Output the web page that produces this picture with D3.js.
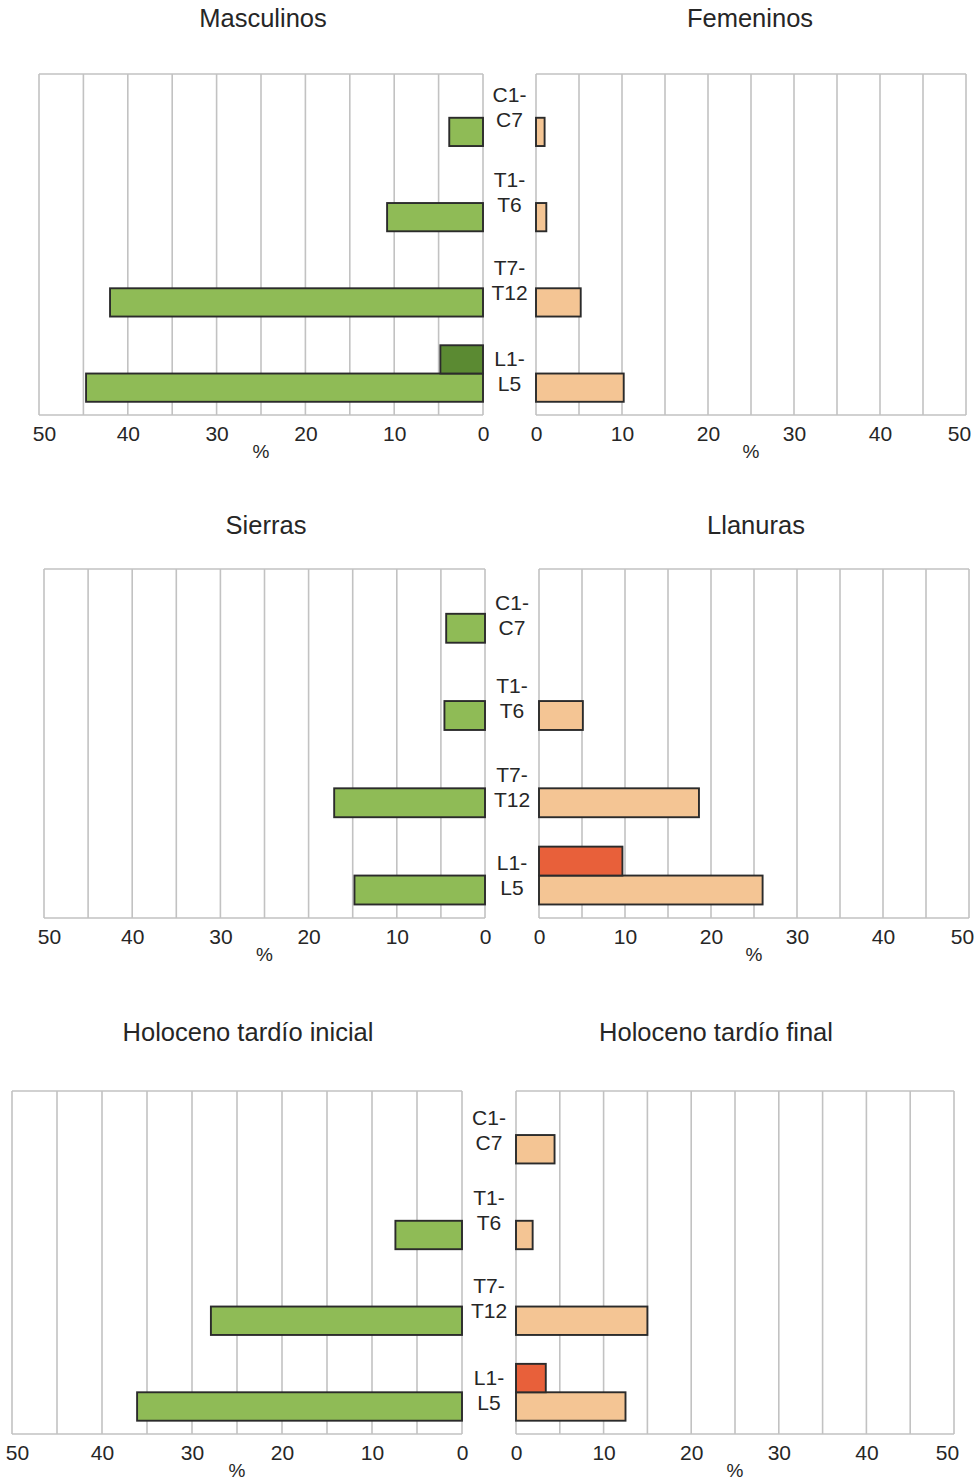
<!DOCTYPE html>
<html>
<head>
<meta charset="utf-8">
<script src="https://cdn.jsdelivr.net/npm/d3@7"></script>
<style>
  html, body { margin: 0; padding: 0; background: #fff; }
  svg { display: block; }
  text { font-family: "Liberation Sans", Arial, sans-serif; fill: #262626; }
</style>
</head>
<body>
<svg id="chart" width="976" height="1481"></svg>
<script>
// Vertebral segments (two-line labels between the paired panels)
const categories = ["C1-C7", "T1-T6", "T7-T12", "L1-L5"];
const categoryLines = [["C1-", "C7"], ["T1-", "T6"], ["T7-", "T12"], ["L1-", "L5"]];
const tickValues = [0, 10, 20, 30, 40, 50];
const gridValues = [0, 5, 10, 15, 20, 25, 30, 35, 40, 45, 50];

// Percentages per segment: "main" = lower bar, "accent" = upper darker bar
const masculinosMain   = [3.8, 10.8, 42.0, 44.7];
const masculinosAccent = [0, 0, 0, 4.8];
const femeninosMain    = [1.0, 1.2, 5.2, 10.2];
const femeninosAccent  = [0, 0, 0, 0];

const sierrasMain      = [4.4, 4.6, 17.1, 14.8];
const sierrasAccent    = [0, 0, 0, 0];
const llanurasMain     = [0, 5.1, 18.6, 26.0];
const llanurasAccent   = [0, 0, 0, 9.7];

const inicialMain      = [0, 7.4, 27.9, 36.1];
const inicialAccent    = [0, 0, 0, 0];
const finalMain        = [4.4, 1.9, 15.0, 12.5];
const finalAccent      = [0, 0, 0, 3.4];

const titles = [
  ["Masculinos", "Femeninos"],
  ["Sierras", "Llanuras"],
  ["Holoceno tardío inicial", "Holoceno tardío final"]
];

const GREEN = "#8fbb56", GREEN_DARK = "#5b8a32";
const PEACH = "#f4c594", RED = "#e8603a";

// Layout of each row: left (mirrored) panel and right panel
const rows = [
  { top: 74,   bottom: 415,  left: [39, 483],  right: [536, 966], titleY: 27,   titleX: [263, 750],
    labelShift: [10, 10, 13, 19],
    data: [[masculinosMain, masculinosAccent], [femeninosMain, femeninosAccent]] },
  { top: 569,  bottom: 918,  left: [44, 485],  right: [539, 969], titleY: 534,  titleX: [266, 756],
    labelShift: [22, 18, 20, 21],
    data: [[sierrasMain, sierrasAccent], [llanurasMain, llanurasAccent]] },
  { top: 1091, bottom: 1434, left: [12, 462],  right: [516, 954], titleY: 1041, titleX: [248, 716],
    labelShift: [16, 10, 13, 19],
    data: [[inicialMain, inicialAccent], [finalMain, finalAccent]] }
];

const svg = d3.select("#chart");

rows.forEach((row, ri) => {
  const g = svg.append("g");
  const y = d3.scaleBand().domain(categories).range([row.top, row.bottom]).padding(0);
  const bw = y.bandwidth();
  const slot = d3.scaleBand().domain(["accent", "main"]).range([0.182 * bw, 0.845 * bw]).padding(0);

  const panels = [
    { side: "left",  x: d3.scaleLinear().domain([0, 50]).range([row.left[1], row.left[0]]),
      colors: { main: GREEN, accent: GREEN_DARK }, vals: row.data[0], title: titles[ri][0], tx: row.titleX[0] },
    { side: "right", x: d3.scaleLinear().domain([0, 50]).range([row.right[0], row.right[1]]),
      colors: { main: PEACH, accent: RED }, vals: row.data[1], title: titles[ri][1], tx: row.titleX[1] }
  ];

  panels.forEach(p => {
    const pg = g.append("g");
    const [x0, x1] = d3.extent(p.x.range());

    // vertical grid lines every 5 %
    pg.selectAll("line.grid").data(gridValues).join("line")
      .attr("class", "grid")
      .attr("x1", d => p.x(d)).attr("x2", d => p.x(d))
      .attr("y1", row.top).attr("y2", row.bottom)
      .attr("stroke", "#c2c2c2").attr("stroke-width", 1.6);
    // frame top/bottom
    [row.top, row.bottom].forEach(yy => {
      pg.append("line").attr("x1", x0).attr("x2", x1).attr("y1", yy).attr("y2", yy)
        .attr("stroke", "#c2c2c2").attr("stroke-width", 1.6);
    });

    // bars
    const bars = [];
    categories.forEach((c, i) => {
      ["main", "accent"].forEach((k, s) => {
        const v = p.vals[s][i];
        if (v > 0) bars.push({ cat: c, key: k, value: v });
      });
    });
    pg.selectAll("rect.bar").data(bars).join("rect")
      .attr("class", "bar")
      .attr("x", d => Math.min(p.x(0), p.x(d.value)))
      .attr("width", d => Math.abs(p.x(d.value) - p.x(0)))
      .attr("y", d => y(d.cat) + slot(d.key))
      .attr("height", slot.bandwidth())
      .attr("fill", d => p.colors[d.key])
      .attr("stroke", "#2b2b2b").attr("stroke-width", 1.9);

    // axis tick labels
    const axis = d3.axisBottom(p.x).tickValues(tickValues).tickSize(0).tickPadding(0).tickFormat(d3.format("d"));
    const ag = pg.append("g").attr("transform", `translate(0,${row.bottom + 11})`).call(axis);
    ag.select(".domain").remove();
    ag.selectAll("text").attr("font-size", 21).attr("fill", "#2a2a2a")
      .attr("font-family", "Liberation Sans, Arial, sans-serif")
      .attr("dy", "0.71em")
      // keep the outer "50" inside the frame edge
      .attr("dx", d => d === 50 ? (p.side === "left" ? 5 : -7) : 0);

    // unit label
    pg.append("text").attr("x", p.x(25)).attr("y", row.bottom + 43)
      .attr("text-anchor", "middle").attr("font-size", 19).text("%");

    // panel title
    pg.append("text").attr("x", p.tx).attr("y", row.titleY)
      .attr("text-anchor", "middle").attr("font-size", 25.5).text(p.title);
  });

  // segment labels between the panels
  const cx = (row.left[1] + row.right[0]) / 2;
  categories.forEach((c, i) => {
    const base = y(c) + bw / 2 + row.labelShift[i];
    const lines = categoryLines[i];
    lines.forEach((ln, li) => {
      g.append("text").attr("x", cx).attr("y", base - (lines.length - 1 - li) * 25)
        .attr("text-anchor", "middle").attr("font-size", 21).text(ln);
    });
  });
});
</script>
</body>
</html>
